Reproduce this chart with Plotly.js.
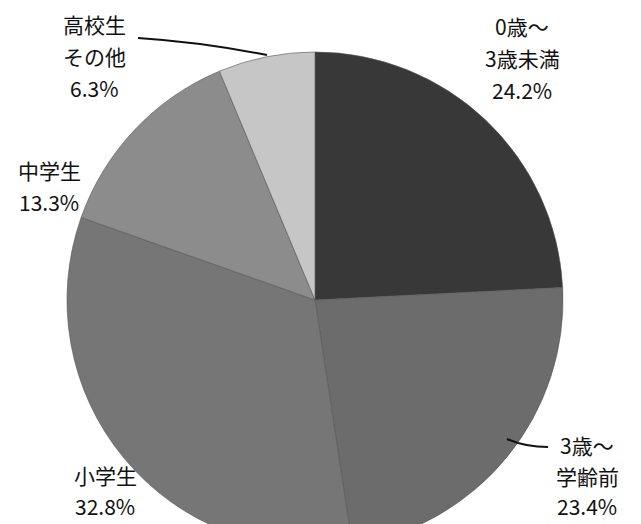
<!DOCTYPE html>
<html>
<head>
<meta charset="utf-8">
<script src="https://cdn.plot.ly/plotly-3.0.1.min.js"></script>
<style>
html, body { margin: 0; padding: 0; overflow: hidden; background: #ffffff; }
#chart { width: 641px; height: 600px; }
</style>
</head>
<body>
<div id="chart"></div>
<script>
// ---- data ----
var categories = ['0歳～3歳未満', '3歳～学齢前', '小学生', '中学生', '高校生その他'];
var labelLines = [['0歳～', '3歳未満'], ['3歳～', '学齢前'], ['小学生'], ['中学生'], ['高校生', 'その他']];
var values = [24.2, 23.4, 32.8, 13.3, 6.3];
var sliceColors = ['#383838', '#6c6c6c', '#767676', '#8c8c8c', '#c6c6c6'];

// ---- layout helpers (pixel -> paper, figure 641 x 600) ----
var W = 641, H = 600;
function px(x) { return x / W; }
function py(y) { return (H - y) / H; }

// label block: centre x and centre y of first line (pixels), line step
var labelPos = [
  {x: 522, y: 26,  step: 32},
  {x: 587, y: 445, step: 30.5},
  {x: 105, y: 475, step: 30.5},
  {x: 49,  y: 170, step: 32},
  {x: 94,  y: 24,  step: 32}
];
var labelFont = {family: '"Noto Sans CJK JP", "Noto Sans", sans-serif', size: 21, color: '#111111'};

var annotations = [];
categories.forEach(function (c, i) {
  var lines = labelLines[i].concat([values[i].toFixed(1) + '%']);
  lines.forEach(function (t, k) {
    annotations.push({
      xref: 'paper', yref: 'paper',
      x: px(labelPos[i].x), y: py(labelPos[i].y + k * labelPos[i].step),
      xanchor: 'center', yanchor: 'middle',
      showarrow: false,
      borderpad: 0,
      text: t,
      font: labelFont
    });
  });
});

var trace = {
  type: 'pie',
  labels: categories,
  values: values,
  sort: false,
  direction: 'clockwise',
  rotation: 0,
  textinfo: 'none',
  hoverinfo: 'label+percent',
  marker: {colors: sliceColors, line: {color: '#555555', width: 0.6}},
  domain: {x: [px(315 - 248), px(315 + 248)], y: [py(300 + 248), py(300 - 248)]},
  showlegend: false
};

var layout = {
  width: W, height: H,
  margin: {l: 0, r: 0, t: 0, b: 0},
  paper_bgcolor: '#ffffff',
  showlegend: false,
  annotations: annotations,
  shapes: [
    {type: 'path', xref: 'paper', yref: 'paper',
     path: 'M ' + px(138) + ' ' + py(38) + ' Q ' + px(200) + ' ' + py(42) + ' ' + px(267) + ' ' + py(55),
     line: {color: '#111111', width: 2}},
    {type: 'path', xref: 'paper', yref: 'paper',
     path: 'M ' + px(507) + ' ' + py(439) + ' Q ' + px(525) + ' ' + py(447) + ' ' + px(548) + ' ' + py(447),
     line: {color: '#111111', width: 2}}
  ]
};

Plotly.newPlot('chart', [trace], layout, {displayModeBar: false, staticPlot: true});
</script>
</body>
</html>
